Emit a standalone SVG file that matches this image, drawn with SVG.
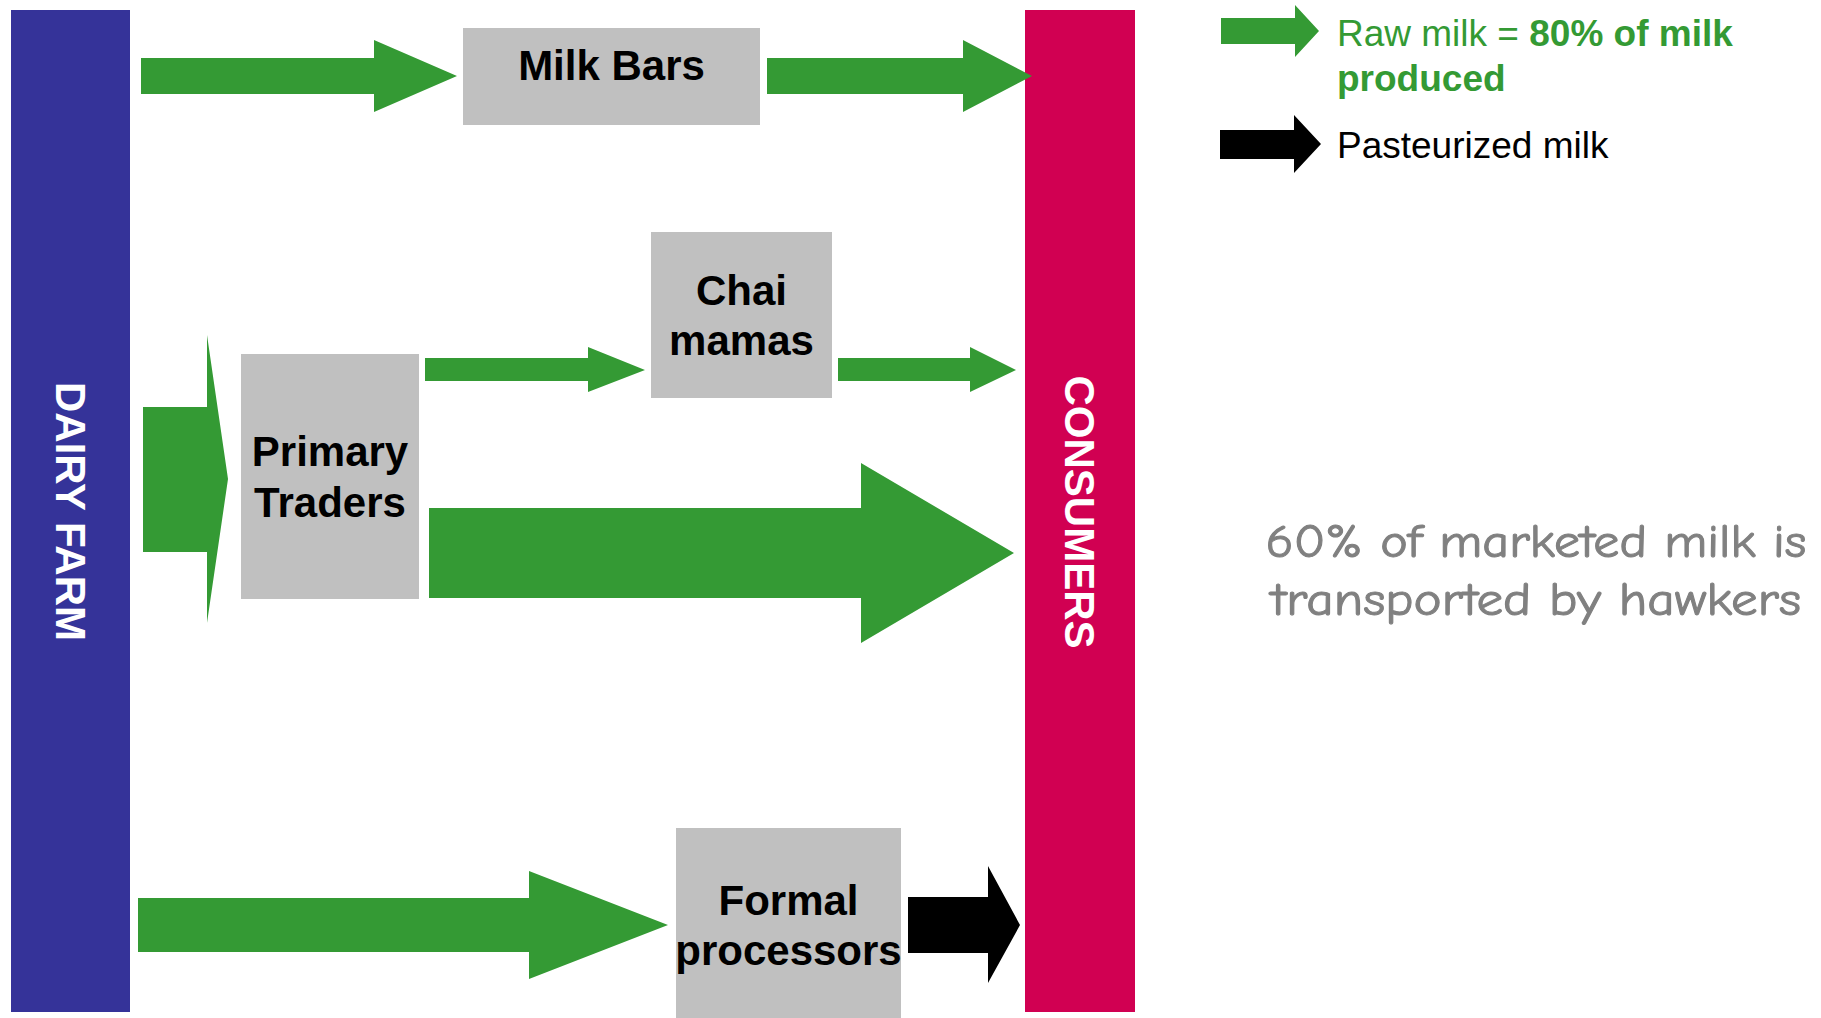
<svg xmlns="http://www.w3.org/2000/svg" width="1821" height="1018" viewBox="0 0 1821 1018">
<style>
.g{fill:#349a34}
.k{fill:#000}
.box{fill:#c0c0c0}
.lbl{font-family:"Liberation Sans",Arial,sans-serif;font-weight:bold;font-size:42px;fill:#000;text-anchor:middle}
.bar{font-family:"Liberation Sans",Arial,sans-serif;font-weight:bold;font-size:42px;fill:#fff;text-anchor:middle}
.leg{font-family:"Liberation Sans",Arial,sans-serif;font-size:37px}
.note{font-family:"Comic Sans MS","Comic Neue","DejaVu Sans",sans-serif;font-size:46px;fill:#808080;stroke:#808080;stroke-width:1;text-anchor:middle}
</style>
<rect width="1821" height="1018" fill="#fff"/>

<g id="dairy-farm">
<rect x="11" y="10" width="119" height="1002" fill="#353399"/>
<text class="bar" transform="translate(55.5,511.5) rotate(90)">DAIRY FARM</text>
</g>

<g id="consumers">
<rect x="1025" y="10" width="110" height="1002" fill="#d10052"/>
<text class="bar" transform="translate(1065,512) rotate(90)">CONSUMERS</text>
</g>

<g id="milk-bars">
<rect class="box" x="463" y="28" width="297" height="97"/>
<text class="lbl" x="611.5" y="80">Milk Bars</text>
</g>

<g id="chai-mamas">
<rect class="box" x="651" y="232" width="181" height="166"/>
<text class="lbl" x="741.5" y="305">Chai</text>
<text class="lbl" x="741.5" y="355">mamas</text>
</g>

<g id="primary-traders">
<rect class="box" x="241" y="354" width="178" height="245"/>
<text class="lbl" x="330" y="466">Primary</text>
<text class="lbl" x="330" y="517">Traders</text>
</g>

<g id="formal-processors">
<rect class="box" x="676" y="828" width="225" height="190"/>
<text class="lbl" x="788.5" y="915">Formal</text>
<text class="lbl" x="788.5" y="965">processors</text>
</g>

<g id="connectors">
<polygon class="g" points="141,58 374,58 374,40 457,76 374,112 374,94 141,94"/>
<polygon class="g" points="767,58 963,58 963,40 1032,76 963,112 963,94 767,94"/>
<polygon class="g" points="143,407 207,407 207,335 228,479 207,623 207,552 143,552"/>
<polygon class="g" points="425,358 588,358 588,347 645,370 588,392 588,381 425,381"/>
<polygon class="g" points="838,358 970,358 970,347 1016,370 970,392 970,381 838,381"/>
<polygon class="g" points="429,508 861,508 861,463 1014,553 861,643 861,598 429,598"/>
<polygon class="g" points="138,898 529,898 529,871 668,925 529,979 529,952 138,952"/>
<polygon class="k" points="908,897 988,897 988,866 1020,925 988,983 988,953 908,953"/>
</g>

<g id="legend">
<polygon class="g" points="1221,18 1295,18 1295,5 1319,31 1295,57 1295,44 1221,44"/>
<text class="leg" x="1337" y="46" fill="#349a34">Raw milk = <tspan font-weight="bold">80% of milk</tspan></text>
<text class="leg" x="1337" y="91" fill="#349a34" font-weight="bold">produced</text>
<polygon class="k" points="1220,130 1294,130 1294,115 1321,144 1294,173 1294,159 1220,159"/>
<text class="leg" x="1337" y="158" fill="#000">Pasteurized milk</text>
</g>

<g id="note">
<text class="note" x="1536" y="557" textLength="541" lengthAdjust="spacingAndGlyphs">60% of marketed milk is</text>
<text class="note" x="1536" y="615" textLength="530" lengthAdjust="spacingAndGlyphs">transported by hawkers</text>
</g>
</svg>
